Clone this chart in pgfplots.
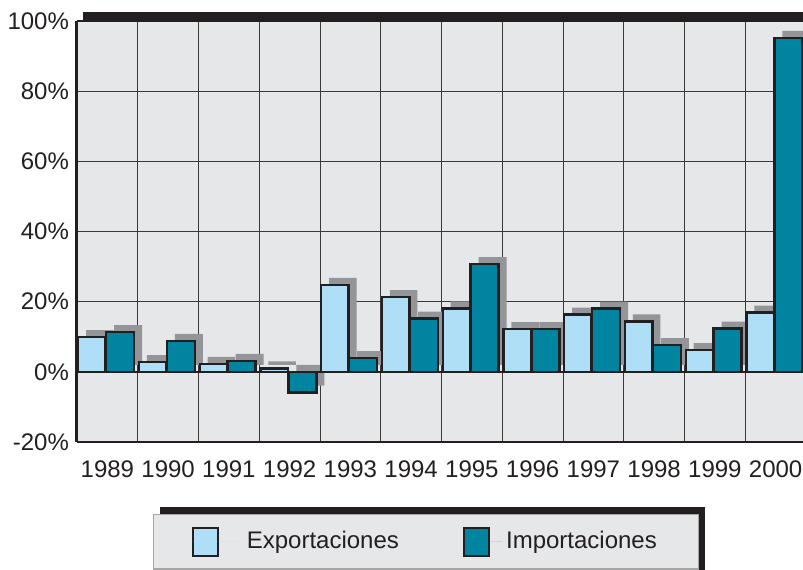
\documentclass[border=0pt]{standalone}
\usepackage{pgfplots}
\usepackage{pgfplotstable}
\pgfplotsset{compat=1.18}
\usepackage{fontspec}
\setmainfont{Liberation Sans}
\definecolor{bgc}{HTML}{E6E7E8}
\definecolor{expc}{HTML}{AEDFF7}
\definecolor{impc}{HTML}{00849F}
\definecolor{shc}{HTML}{939598}
\definecolor{dark}{HTML}{231F20}
\definecolor{gridc}{HTML}{3A3839}
\pgfplotstableread{
x exp imp
0.5 9.9 11.3
1.5 2.8 8.8
2.5 2.3 3.1
3.5 1.0 -5.9
4.5 24.8 3.9
5.5 21.3 15.2
6.5 18.1 30.7
7.5 12.2 12.2
8.5 16.3 18.0
9.5 14.4 7.6
10.5 6.2 12.3
11.5 16.9 95.2
}\datatable
\begin{document}
\begin{tikzpicture}
% shadow of the legend box
\fill[dark] (41.5pt,-32.5pt) rectangle (314pt,-80pt);
\begin{axis}[
 at={(0,0)}, anchor=south west,
 width=364.5pt, height=210.5pt, scale only axis,
 xmin=0, xmax=12, ymin=-20, ymax=100,
 axis background/.style={fill=bgc},
 xtick={0.5,1.5,...,11.5},
 xticklabels={1989,1990,1991,1992,1993,1994,1995,1996,1997,1998,1999,2000},
 minor xtick={1,2,...,11},
 xminorgrids=true,
 ytick={-20,0,20,40,60,80,100},
 yticklabels={-20\%,0\%,20\%,40\%,60\%,80\%,100\%},
 ymajorgrids=true,
 grid style={line width=0.5pt, draw=gridc},
 minor grid style={line width=0.5pt, draw=gridc},
 major tick length=0pt, minor tick length=0pt,
 tick style={draw=none},
 axis x line*=bottom, axis y line*=left,
 x axis line style={-, line width=0.85pt, draw=dark},
 y axis line style={-, line width=1.5pt, draw=dark},
 ticklabel style={font=\fontsize{12}{14}\selectfont, text=dark},
 xticklabel style={yshift=-6pt},
 yticklabel style={xshift=-0.5pt},
 legend columns=2,
 legend cell align=left,
 legend style={at={(0.1043,-0.171)}, anchor=north west, fill=bgc, draw=gray!70, line width=0.6pt,
   font=\fontsize{12}{14}\selectfont, text=dark, inner xsep=19pt, inner ysep=6pt,
   /tikz/every even column/.append style={column sep=30pt}},
]
\addplot[ybar, bar width=0.45, bar shift=-0.255, fill=shc, draw=none, xshift=4pt, yshift=3.5pt, forget plot] table[x=x,y=exp]{\datatable};
\addplot[ybar, bar width=0.46, bar shift=0.21, fill=shc, draw=none, xshift=4pt, yshift=3.5pt, forget plot] table[x=x,y=imp]{\datatable};
\addplot[ybar, bar width=0.45, bar shift=-0.255, fill=expc, draw=dark, line width=1.2pt,
  legend image code/.code={\draw[fill=expc, draw=dark, line width=1.2pt] (0pt,-7pt) rectangle (12.5pt,7pt); \path[draw=none] (0pt,0pt) -- (25pt,0pt);}] table[x=x,y=exp]{\datatable};
\addlegendentry{Exportaciones}
\addplot[ybar, bar width=0.46, bar shift=0.21, fill=impc, draw=dark, line width=1.2pt,
  legend image code/.code={\draw[fill=impc, draw=dark, line width=1.2pt] (0pt,-7pt) rectangle (12.5pt,7pt); \path[draw=none] (0pt,0pt) -- (19pt,0pt);}] table[x=x,y=imp]{\datatable};
\addlegendentry{Importaciones}
\draw[line width=1pt, dark] (axis cs:0,0) -- (axis cs:12,0);
\end{axis}
\fill[dark] ([xshift=3pt]current axis.north west) rectangle ([xshift=10pt,yshift=4.5pt]current axis.north east);
\draw[dark, line width=1pt] (current axis.north west) -- (current axis.north east);
\pgfresetboundingbox
\path[use as bounding box] (-38.5pt,-63.5pt) rectangle (363pt,221pt);
\end{tikzpicture}
\end{document}
